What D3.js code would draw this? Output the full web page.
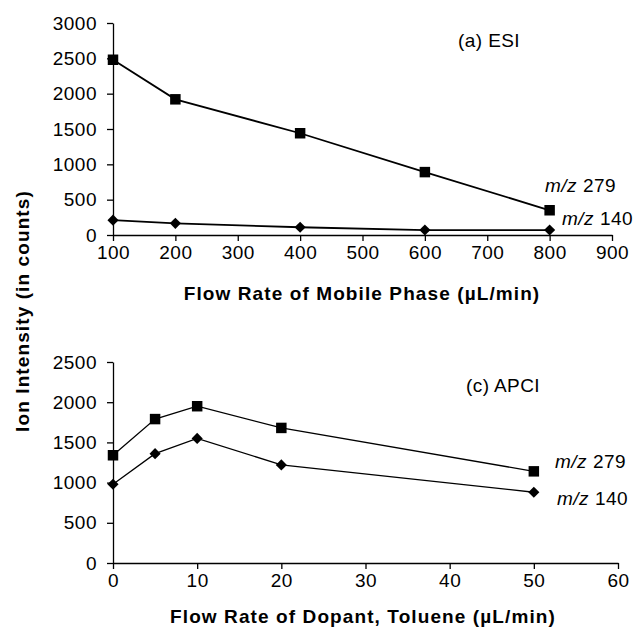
<!DOCTYPE html>
<html>
<head>
<meta charset="utf-8">
<script src="https://cdn.jsdelivr.net/npm/d3@7"></script>
<style>
  body { margin: 0; background: #fff; }
  svg { display: block; font-family: "Liberation Sans", Arial, sans-serif; }
</style>
</head>
<body>
<script>
// panel (a) ESI - flow rate of mobile phase
const esiFlow = [100, 200, 400, 600, 800];
const esi279 = [2480, 1920, 1440, 890, 350];
const esi140 = [210, 165, 110, 70, 70];
const esiXTicks = [100, 200, 300, 400, 500, 600, 700, 800, 900];
const esiYTicks = [0, 500, 1000, 1500, 2000, 2500, 3000];

// panel (c) APCI - flow rate of dopant
const apciFlow = [0, 5, 10, 20, 50];
const apci279 = [1340, 1790, 1950, 1680, 1140];
const apci140 = [980, 1360, 1550, 1220, 880];
const apciXTicks = [0, 10, 20, 30, 40, 50, 60];
const apciYTicks = [0, 500, 1000, 1500, 2000, 2500];

const width = 638, height = 628;

const svg = d3.select("body").append("svg")
  .attr("width", width)
  .attr("height", height);

// draws one panel
function panel(opt) {
  const x = d3.scaleLinear().domain(opt.xDomain).range(opt.xRange);
  const y = d3.scaleLinear().domain(opt.yDomain).range(opt.yRange);
  const g = svg.append("g");

  const xAxis = g.append("g")
    .attr("transform", `translate(0,${opt.yRange[0]})`)
    .call(d3.axisBottom(x).tickValues(opt.xTicks).tickFormat(d3.format("d"))
      .tickSize(6).tickPadding(5).tickSizeOuter(0));
  const yAxis = g.append("g")
    .attr("transform", `translate(${opt.xRange[0]},0)`)
    .call(d3.axisLeft(y).tickValues(opt.yTicks).tickFormat(d3.format("d"))
      .tickSize(6).tickPadding(10).tickSizeOuter(0));

  [xAxis, yAxis].forEach(a => {
    a.select(".domain").attr("stroke", "#000").attr("stroke-width", 1.3);
    a.selectAll(".tick line").attr("stroke", "#000").attr("stroke-width", 1.3);
    a.selectAll(".tick text")
      .attr("fill", "#000")
      .style("font-family", "'Liberation Sans', Arial, sans-serif")
      .style("font-size", "19px")
      .style("letter-spacing", "0.5px");
  });

  const line = d3.line().x(d => x(d[0])).y(d => y(d[1]));

  opt.series.forEach(s => {
    const pts = opt.xs.map((v, i) => [v, s.values[i]]);
    g.append("path")
      .datum(pts)
      .attr("fill", "none")
      .attr("stroke", "#000")
      .attr("stroke-width", opt.lineWidth)
      .attr("d", line);

    // squares, and diamonds as squares turned 45 degrees
    const isSq = s.shape === "square";
    g.selectAll(null)
      .data(pts)
      .enter()
      .append("path")
      .attr("transform", d => `translate(${x(d[0])},${y(d[1])})` + (isSq ? "" : " rotate(45)"))
      .attr("d", d3.symbol().type(d3.symbolSquare).size(isSq ? 110 : 62))
      .attr("fill", "#000");

    const t = g.append("text")
      .attr("x", s.labelPos[0])
      .attr("y", s.labelPos[1])
      .style("font-size", "19px")
      .style("letter-spacing", "0.5px");
    t.append("tspan").style("font-style", "italic").text("m/z");
    t.append("tspan").text(" " + s.name);
  });

  g.append("text")
    .attr("x", opt.titlePos[0])
    .attr("y", opt.titlePos[1])
    .attr("text-anchor", "middle")
    .style("font-size", "19px")
    .style("letter-spacing", "0.4px")
    .text(opt.title);

  g.append("text")
    .attr("x", opt.xLabelX)
    .attr("y", opt.xLabelY)
    .attr("text-anchor", "middle")
    .style("font-size", "19px")
    .style("font-weight", "bold")
    .style("letter-spacing", "1.1px")
    .text(opt.xLabel);
}

panel({
  xDomain: [100, 900], xRange: [113, 612],
  yDomain: [0, 3000], yRange: [235, 23],
  xTicks: esiXTicks, yTicks: esiYTicks,
  xs: esiFlow, lineWidth: 1.8,
  series: [
    { name: "279", values: esi279, shape: "square", labelPos: [545, 192] },
    { name: "140", values: esi140, shape: "diamond", labelPos: [562, 225] }
  ],
  title: "(a) ESI", titlePos: [489, 47],
  xLabel: "Flow Rate of Mobile Phase (\u00b5L/min)", xLabelX: 362, xLabelY: 300
});

panel({
  xDomain: [0, 60], xRange: [113, 618],
  yDomain: [0, 2500], yRange: [563, 362],
  xTicks: apciXTicks, yTicks: apciYTicks,
  xs: apciFlow, lineWidth: 1.3,
  series: [
    { name: "279", values: apci279, shape: "square", labelPos: [555, 468] },
    { name: "140", values: apci140, shape: "diamond", labelPos: [557, 505] }
  ],
  title: "(c) APCI", titlePos: [503, 392],
  xLabel: "Flow Rate of Dopant, Toluene (\u00b5L/min)", xLabelX: 363, xLabelY: 623
});

// shared y axis title
svg.append("text")
  .attr("transform", "translate(29,311) rotate(-90)")
  .attr("text-anchor", "middle")
  .style("font-size", "19px")
  .style("font-weight", "bold")
  .style("letter-spacing", "1.1px")
  .text("Ion Intensity (in counts)");
</script>
</body>
</html>
